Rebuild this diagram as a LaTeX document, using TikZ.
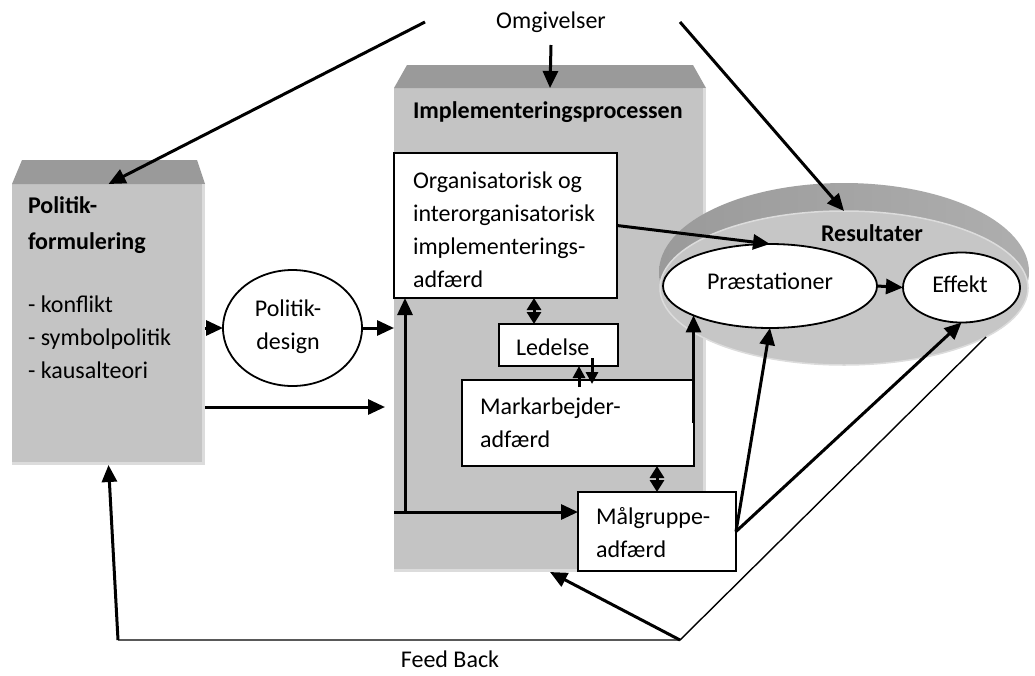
\documentclass[tikz,border=0pt]{standalone}
\usepackage{fontspec}
\setmainfont{Carlito}
\usetikzlibrary{arrows.meta,shapes.geometric,calc}
\definecolor{facegray}{HTML}{C4C4C4}
\definecolor{topgray}{HTML}{9A9A9A}
\definecolor{edgegray}{HTML}{DCDCDC}
\definecolor{rimdark}{HTML}{9A9A9A}
\definecolor{rimlight}{HTML}{AEAEAE}
\definecolor{diskgray}{HTML}{C6C6C6}

\begin{document}
\begin{tikzpicture}[x=1pt,y=-1pt,
  every node/.style={font=\fontsize{24}{33}\selectfont, inner sep=0pt, outer sep=0pt},
  face/.style={rectangle, fill=facegray, draw=none},
  box/.style={rectangle, fill=white, draw=black, line width=2pt},
  oval/.style={ellipse, fill=white, draw=black, line width=1.8pt},
  txt/.style={anchor=west, align=left},
  head/.style={anchor=west, align=left, font=\bfseries\fontsize{24}{36}\selectfont},
  arr/.style={line width=3pt, -{Triangle[length=17pt,width=15pt]}},
  smallarr/.style={line width=3pt, -{Triangle[length=12pt,width=12pt]}},
  dbl/.style={line width=3pt, {Triangle[length=12pt,width=14pt]}-{Triangle[length=12pt,width=14pt]}},
  fbline/.style={line width=1.4pt},
  rim/.style={line width=3pt, draw=edgegray}
]
\useasboundingbox (0,0) rectangle (1035,675);

% Politikformulering block
\node[face, minimum width=193pt, minimum height=281pt] (pf) at (108.5,324.5) {};
\fill[topgray] (pf.north west) -- (22,160) -- (197,160) -- (pf.north east) -- cycle;
\draw[rim] ([xshift=-1.5pt]pf.north east) -- ([xshift=-1.5pt,yshift=1.5pt]pf.south east) -- ([yshift=1.5pt]pf.south west);
\node[head] (pftitle) at (28,225) {Politik-\\formulering};
\node[txt] (pflist) at (28,337) {- konflikt\\- symbolpolitik\\- kausalteori};

% Implementeringsprocessen block
\node[face, minimum width=312pt, minimum height=484pt] (impl) at (550,330) {};
\fill[topgray] (impl.north west) -- (407,65) -- (693,65) -- (impl.north east) -- cycle;
\draw[rim] ([xshift=-1.5pt]impl.north east) -- ([xshift=-1.5pt,yshift=1.5pt]impl.south east) -- ([yshift=1.5pt]impl.south west);
\node[head] (impltitle) at (413,112) {Implementeringsprocessen};

% Resultater disc
\node[ellipse, minimum width=370pt, minimum height=178pt, left color=rimdark, right color=rimlight, draw=none] (resrim) at (844,272) {};
\node[ellipse, minimum width=368pt, minimum height=154pt, fill=diskgray, draw=edgegray, line width=1.5pt] (res) at (844,288) {};
\node[font=\bfseries\fontsize{24}{33}\selectfont] (restitle) at (872,233) {Resultater};

% Boxes inside the implementation process
\node[box, minimum width=223pt, minimum height=145pt] (org) at (505.5,225.5) {};
\node[txt] (orgtext) at (413,230) {Organisatorisk og\\interorganisatorisk\\implementerings-\\adfærd};
\node[box, minimum width=119pt, minimum height=42pt] (led) at (558.5,345) {};
\node[txt] (ledtext) at (516,347) {Ledelse};
\node[box, minimum width=232pt, minimum height=86pt] (mark) at (578,423) {};
\node[txt] (marktext) at (480,423) {Markarbejder-\\adfærd};
\node[box, minimum width=158pt, minimum height=79pt] (malg) at (657,531.5) {};
\node[txt] (malgtext) at (596,533) {Målgruppe-\\adfærd};

% Ellipses
\node[oval, minimum width=139pt, minimum height=116pt] (pd) at (292.5,328) {};
\node[align=center] (pdtext) at (288,327) {Politik-\\design};
\node[oval, minimum width=214pt, minimum height=84pt] (prae) at (770,286) {};
\node (praetext) at (770,281) {Præstationer};
\node[oval, minimum width=117pt, minimum height=70pt] (eff) at (961.5,287.5) {};
\node (efftext) at (960,284) {Effekt};

% Free texts
\node (omg) at (551,22) {Omgivelser};
\node (fb) at (450,659) {Feed Back};

% Connector end points
\coordinate (omgL) at (425,22);
\coordinate (omgR) at (680,22);
\coordinate (omgD) at (551,45);
\coordinate (pfout) at (205,407);
\coordinate (j1) at (405,512);
\coordinate (fbL) at (118,640);
\coordinate (fbR) at (680,640);

% Environment arrows
\draw[arr] (omgL) -- (pf.north);
\draw[arr] (omgR) -- (res.north);
\draw[arr] (omgD) -- (impl.north);

% Policy formulation flows
\draw[arr] (pf.east |- pd.west) -- (pd.west);
\draw[arr] (pd.east) -- (impl.west |- pd.east);
\draw[arr] (pfout) -- ($(impl.west |- pfout)+(-9,0)$);
\draw[arr] (j1) -- (j1 |- org.south);
\draw[arr] (impl.west |- j1) -- (malg.west |- j1);

% Inside the implementation process
\draw[dbl] ($(led.north)+(-24.5,0)$) -- ($(led.north |- org.south)+(-24.5,0)$);
\draw[smallarr] ($(led.south)+(20.5,21)$) -- ($(led.south)+(20.5,0)$);
\draw[smallarr] ($(led.south)+(33.5,-8)$) -- ($(led.south)+(33.5,18)$);
\draw[dbl] (mark.south -| malg.north) -- (malg.north);

% Towards the results
\draw[arr] (prae.201.5 |- mark.east) -- (prae.201.5);
\draw[arr] (org.east) -- (prae.north);
\draw[arr] (prae.east) -- (eff.west);
\draw[arr] (malg.east) -- (prae.south);
\draw[arr] (malg.east) -- (eff.south);

% Feedback loop
\draw[fbline] (res.-19.5) -- (fbR) -- (fbL);
\draw[arr] (fbL) -- (pf.south);
\draw[arr] (fbR) -- (impl.south);
\end{tikzpicture}
\end{document}
